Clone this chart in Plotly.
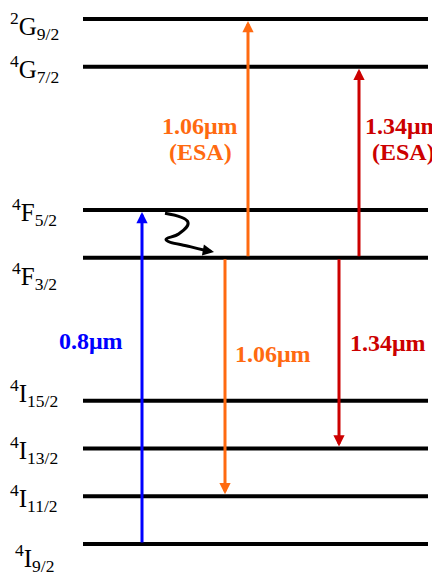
import plotly.graph_objects as go

# ---- data ----
level_labels = ["<sup>2</sup>G<sub>9/2</sub>", "<sup>4</sup>G<sub>7/2</sub>",
                "<sup>4</sup>F<sub>5/2</sub>", "<sup>4</sup>F<sub>3/2</sub>",
                "<sup>4</sup>I<sub>15/2</sub>", "<sup>4</sup>I<sub>13/2</sub>",
                "<sup>4</sup>I<sub>11/2</sub>", "<sup>4</sup>I<sub>9/2</sub>"]
level_energy = [11, 10, 7, 6, 3, 2, 1, 0]

trans_start = [0, 6, 6, 6, 6]
trans_end = [7, 1, 11, 2, 10]
trans_label = ["0.8\u03bcm", "1.06\u03bcm", "1.06\u03bcm<br>(ESA)", "1.34\u03bcm", "1.34\u03bcm<br>(ESA)"]

# non-radiative relaxation 4F5/2 -> 4F3/2 (wavy path, schematic)
wave_x = [165, 188, 179, 166, 190, 206]
wave_y = [6.93, 6.74, 6.50, 6.38, 6.23, 6.15]

# ---- style / layout ----
BLUE = "#0000FF"
ORANGE = "#FF6A10"
RED = "#CC0000"
trans_x = [142, 225, 248, 339, 359]
trans_color = [BLUE, ORANGE, ORANGE, RED, RED]
trans_text_x = [91, 273, 200, 388, 403]
trans_text_y = [4.25, 3.98, 8.49, 4.21, 8.49]
LINE_PITCH = 26  # px between lines of multi-line labels
label_yshift = [-7, -2, -2, -18, 8, -1, -2, -14]

FONT = "Liberation Serif"
LINE_X0, LINE_X1 = 83, 428

fig = go.Figure()

for e in level_energy:
    fig.add_trace(go.Scatter(x=[LINE_X0, LINE_X1], y=[e, e], mode="lines",
                             line=dict(color="black", width=4),
                             hoverinfo="skip", showlegend=False))

fig.add_trace(go.Scatter(x=wave_x, y=wave_y, mode="lines",
                         line=dict(color="black", width=3, shape="spline", smoothing=1.3),
                         hoverinfo="skip", showlegend=False))

annotations = []
for lab, e, ys in zip(level_labels, level_energy, label_yshift):
    annotations.append(dict(x=34, y=e, xref="x", yref="y", text=lab, showarrow=False,
                            xanchor="center", yanchor="middle", yshift=ys,
                            font=dict(family=FONT, size=25, color="black")))

for s, t, x, c in zip(trans_start, trans_end, trans_x, trans_color):
    annotations.append(dict(x=x, y=t, ax=x, ay=s, xref="x", yref="y", axref="x", ayref="y",
                            text="", showarrow=True, arrowhead=2, arrowsize=0.75,
                            arrowwidth=3, arrowcolor=c, standoff=2))

for lab, x, y, c in zip(trans_label, trans_text_x, trans_text_y, trans_color):
    parts = lab.split("<br>")
    n = len(parts)
    for i, p in enumerate(parts):
        annotations.append(dict(x=x, y=y, xref="x", yref="y", text="<b>" + p + "</b>",
                                showarrow=False, xanchor="center", yanchor="middle",
                                yshift=((n - 1) / 2 - i) * LINE_PITCH,
                                font=dict(family=FONT, size=24, color=c)))

# head of the wavy arrow
annotations.append(dict(x=214, y=6.12, ax=wave_x[-1], ay=wave_y[-1], xref="x", yref="y",
                        axref="x", ayref="y", text="", showarrow=True, arrowhead=2,
                        arrowsize=0.75, arrowwidth=3, arrowcolor="black"))

# page body has an 8px margin: figure sits at (8, 8) in the 440x575 window
fig.update_layout(
    width=432, height=567,
    margin=dict(l=0, r=0, t=0, b=0),
    paper_bgcolor="white", plot_bgcolor="white",
    xaxis=dict(range=[8, 440], visible=False, fixedrange=True),
    yaxis=dict(range=[-0.6495, 11.2305], visible=False, fixedrange=True),
    annotations=annotations,
    showlegend=False,
)

fig.write_html("out.html")
